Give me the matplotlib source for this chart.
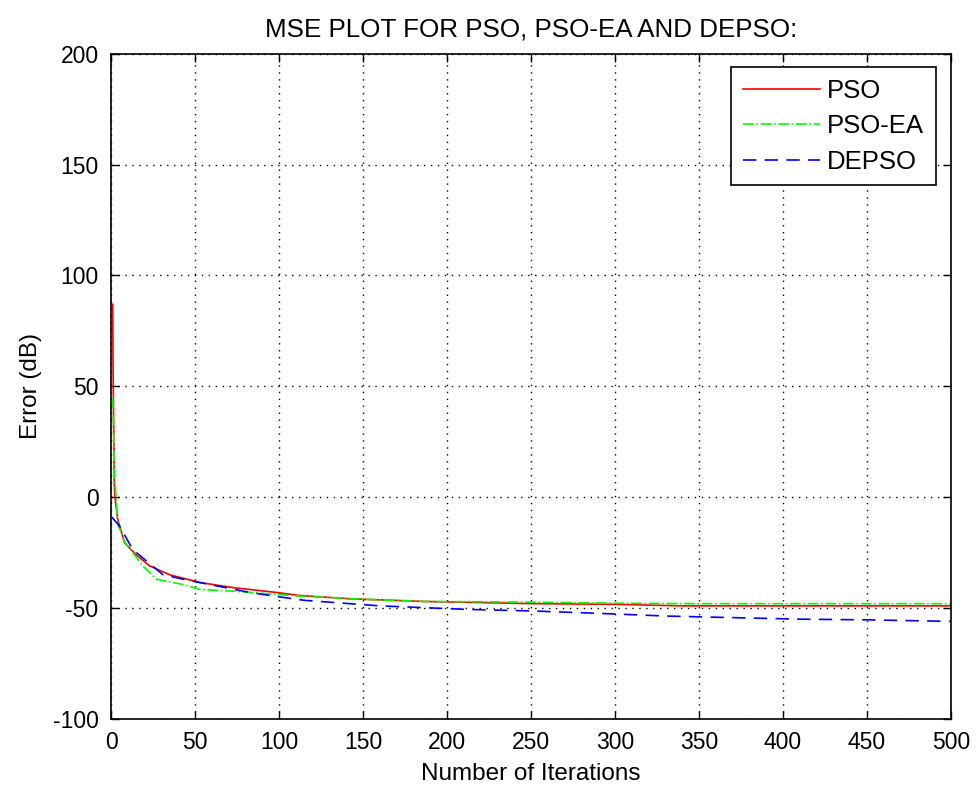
import numpy as np
import matplotlib
matplotlib.use("Agg")
import matplotlib.pyplot as plt

plt.rcParams['font.family'] = ['Liberation Sans', 'DejaVu Sans']
plt.rcParams['axes.unicode_minus'] = False

# iterations / error values
it_pso = [1, 1.2, 2, 2.5, 4, 8, 15, 23, 35, 53, 73, 99, 112, 142, 186, 251, 300, 340, 400, 450, 500]
err_pso = [87, 60, 5, -1, -10, -20.5, -26, -31, -35, -38.5, -40.8, -43, -44.3, -45.8, -47, -48, -48.3, -49, -49, -49, -49]

it_psoea = [1, 1.5, 2, 3, 4, 8, 13, 19, 27, 43, 53, 73, 112, 150, 186, 250, 300, 350, 400, 450, 500]
err_psoea = [45, 30, 10, 0, -12, -20, -25, -31, -37, -39.4, -41.6, -42.4, -44.6, -46, -47, -47.3, -47.8, -48, -48, -48, -48]

it_depso = [0.5, 5, 13, 23, 31, 43, 63, 83, 97, 115, 160, 212, 251, 291, 331, 370, 410, 450, 500]
err_depso = [-9, -13, -23.6, -30, -35, -37, -40, -43, -44.6, -46.5, -49, -50.6, -51.3, -52.4, -53.6, -54.3, -55, -55.3, -56]

xticks = np.arange(0, 501, 50)
yticks = np.arange(-100, 201, 50)

fig = plt.figure(figsize=(9.79, 7.88), dpi=100)
ax = fig.add_axes([0.1134, 0.0876, 0.8580, 0.8443])

ax.plot(it_pso, err_pso, color='#ff0000', linestyle='-', linewidth=1.2, label='PSO')
ax.plot(it_psoea, err_psoea, color='#00ff00', linestyle='-.', linewidth=1.2, label='PSO-EA')
ax.plot(it_depso, err_depso, color='#0000ff', linestyle=(0, (8, 5)), linewidth=1.2, label='DEPSO')

ax.set_xlim(0, 500)
ax.set_ylim(-100, 200)
ax.set_xticks(xticks)
ax.set_yticks(yticks)
ax.tick_params(direction='in', top=True, right=True, labelsize=16.5, length=6, width=1, pad=9)
ax.grid(True, color='black', linestyle=(0, (1, 4)), linewidth=1)
for s in ax.spines.values():
    s.set_linewidth(1.2)

ax.set_title("MSE PLOT FOR PSO, PSO-EA AND DEPSO:", fontsize=18.7, pad=12)
ax.set_xlabel("Number of Iterations", fontsize=17.5, labelpad=6)
ax.set_ylabel("Error (dB)", fontsize=17.5, labelpad=8)

leg = ax.legend(loc='upper right', fontsize=18.5, fancybox=False, framealpha=1,
                edgecolor='black', handlelength=3.0, borderpad=0.45,
                labelspacing=0.45, handletextpad=0.3, borderaxespad=0,
                bbox_to_anchor=(0.982, 0.980))
leg.get_frame().set_linewidth(1.2)

fig.savefig("out.png", dpi=100)
